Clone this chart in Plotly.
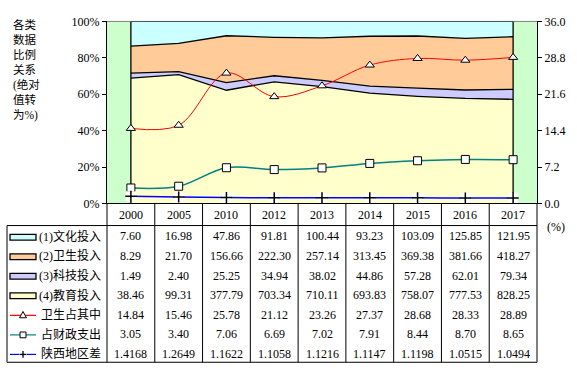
import plotly.graph_objects as go

# ---------------- data ----------------
years = ["2000", "2005", "2010", "2012", "2013", "2014", "2015", "2016", "2017"]
culture = [7.60, 16.98, 47.86, 91.81, 100.44, 93.23, 103.09, 125.85, 121.95]
health = [8.29, 21.70, 156.66, 222.30, 257.14, 313.45, 369.38, 381.66, 418.27]
tech = [1.49, 2.40, 25.25, 34.94, 38.02, 44.86, 57.28, 62.01, 79.34]
edu = [38.46, 99.31, 377.79, 703.34, 710.11, 693.83, 758.07, 777.53, 828.25]
health_share = [14.84, 15.46, 25.78, 21.12, 23.26, 27.37, 28.68, 28.33, 28.89]
fiscal_share = [3.05, 3.40, 7.06, 6.69, 7.02, 7.91, 8.44, 8.70, 8.65]
region_gap = [1.4168, 1.2649, 1.1622, 1.1058, 1.1216, 1.1147, 1.1198, 1.0515, 1.0494]

row_labels = ["(1)文化投入", "(2)卫生投入", "(3)科技投入", "(4)教育投入",
              "卫生占其中", "占财政支出", "陕西地区差"]
y_title = "各类<br>数据<br>比例<br>关系<br>(绝对<br>值转<br>为%)"
y2_ticks = [0, 7.2, 14.4, 21.6, 28.8, 36.0]

# ---------------- layout geometry (pixels) ----------------
W, H = 577, 376
PL, PR, PT, PB = 107, 537, 15, 204
TBL_LEFT, HDR_BOTTOM, TBL_BOTTOM = 7, 227, 369
FONT = "'Liberation Serif', 'Times New Roman', 'Noto Sans CJK SC', serif"

def fx(x):
    return x / W

def fy(y):
    return 1 - y / H

cw = (PR - PL) / len(years)
rh = (TBL_BOTTOM - HDR_BOTTOM) / len(row_labels)

fig = go.Figure()

# stacked 100% areas
areas = [(edu, "#FFFFCC"), (tech, "#CCCCFF"), (health, "#FFCC99"), (culture, "#CCFFFF")]
for i, (vals, col) in enumerate(areas):
    fig.add_trace(go.Scatter(
        x=years, y=vals, stackgroup="s", groupnorm="percent" if i == 0 else None,
        mode="lines", line=dict(color="black", width=1.3), fillcolor=col,
        showlegend=False, hoverinfo="skip"))

# vertical edges of the area block
for yr in (years[0], years[-1]):
    fig.add_trace(go.Scatter(x=[yr, yr], y=[0, 100], mode="lines",
                             line=dict(color="black", width=1.3),
                             showlegend=False, hoverinfo="skip"))

# lines on secondary axis
fig.add_trace(go.Scatter(
    x=years, y=health_share, yaxis="y2", mode="lines+markers",
    line=dict(color="#FF0000", width=1, shape="spline"),
    marker=dict(symbol="triangle-up", size=8, color="white", line=dict(color="black", width=1)),
    showlegend=False))
fig.add_trace(go.Scatter(
    x=years, y=fiscal_share, yaxis="y2", mode="lines+markers",
    line=dict(color="#008080", width=1.5, shape="spline"),
    marker=dict(symbol="square", size=8, color="white", line=dict(color="black", width=1)),
    showlegend=False))
fig.add_trace(go.Scatter(
    x=years, y=region_gap, yaxis="y2", mode="lines",
    line=dict(color="#0000FF", width=1.5, shape="spline"), showlegend=False))
fig.add_trace(go.Scatter(
    x=years, y=region_gap, yaxis="y2", mode="markers",
    marker=dict(symbol="square", size=10, color="white", line=dict(width=0)),
    showlegend=False, hoverinfo="skip"))
fig.add_trace(go.Scatter(
    x=years, y=region_gap, yaxis="y2", mode="markers",
    marker=dict(symbol="cross-thin", size=8, line=dict(color="black", width=1.5)),
    showlegend=False))

shapes = []
annots = []

# gray plot border top
shapes.append(dict(type="line", xref="paper", yref="paper", x0=fx(PL), x1=fx(PR),
                   y0=fy(PT), y1=fy(PT), line=dict(color="#808080", width=1), layer="below"))

# table grid
line_k = dict(color="black", width=1)
for yy in (HDR_BOTTOM, TBL_BOTTOM):
    shapes.append(dict(type="line", xref="paper", yref="paper", x0=fx(TBL_LEFT), x1=fx(PR),
                       y0=fy(yy), y1=fy(yy), line=line_k))
shapes.append(dict(type="line", xref="paper", yref="paper", x0=fx(TBL_LEFT), x1=fx(TBL_LEFT),
                   y0=fy(HDR_BOTTOM), y1=fy(TBL_BOTTOM), line=line_k))
for k in range(len(years) + 1):
    xx = PL + k * cw
    shapes.append(dict(type="line", xref="paper", yref="paper", x0=fx(xx), x1=fx(xx),
                       y0=fy(PB), y1=fy(TBL_BOTTOM), line=line_k))

# header years
for i, yr in enumerate(years):
    annots.append(dict(text=yr, xref="paper", yref="paper", x=fx(PL + (i + 0.5) * cw),
                       y=fy((PB + HDR_BOTTOM) / 2 + 0.5), showarrow=False,
                       font=dict(family=FONT, size=12, color="black"),
                       xanchor="center", yanchor="middle"))

# table values
rows = [culture, health, tech, edu, health_share, fiscal_share, region_gap]
fmts = ["{:.2f}"] * 6 + ["{:.4f}"]
for r, (vals, fmt) in enumerate(zip(rows, fmts)):
    cy = HDR_BOTTOM + (r + 0.5) * rh + 1.2
    for i, v in enumerate(vals):
        annots.append(dict(text=fmt.format(v), xref="paper", yref="paper",
                           x=fx(PL + (i + 0.5) * cw), y=fy(cy), showarrow=False,
                           font=dict(family=FONT, size=12, color="black"),
                           xanchor="center", yanchor="middle"))
    # row label
    annots.append(dict(text=row_labels[r], xref="paper", yref="paper",
                       x=fx(37 if r < 4 else 39), y=fy(cy), showarrow=False,
                       font=dict(family=FONT, size=12, color="black"),
                       xanchor="left", yanchor="middle"))

# legend keys
sw_x0, sw_x1 = 10, 36
sw_c = (sw_x0 + sw_x1) / 2
swatch_cols = ["#CCFFFF", "#FFCC99", "#CCCCFF", "#FFFFCC"]
for r, col in enumerate(swatch_cols):
    cy = HDR_BOTTOM + (r + 0.5) * rh + 2
    shapes.append(dict(type="rect", xref="paper", yref="paper", x0=fx(sw_x0), x1=fx(sw_x1),
                       y0=fy(cy - 3), y1=fy(cy + 3), fillcolor=col,
                       line=dict(color="black", width=1.3)))
line_cols = ["#FF0000", "#008080", "#0000FF"]
for j, col in enumerate(line_cols):
    r = 4 + j
    cy = HDR_BOTTOM + (r + 0.5) * rh + 2
    shapes.append(dict(type="line", xref="paper", yref="paper", x0=fx(sw_x0), x1=fx(sw_x1),
                       y0=fy(cy), y1=fy(cy), line=dict(color=col, width=1.2)))
    if j == 0:
        path = "M {},{} L {},{} L {},{} Z".format(fx(sw_c), fy(cy - 4), fx(sw_c - 3.5), fy(cy + 2.5),
                                                  fx(sw_c + 3.5), fy(cy + 2.5))
        shapes.append(dict(type="path", xref="paper", yref="paper", path=path,
                           fillcolor="white", line=dict(color="black", width=1)))
    elif j == 1:
        shapes.append(dict(type="rect", xref="paper", yref="paper", x0=fx(sw_c - 3), x1=fx(sw_c + 3),
                           y0=fy(cy - 3), y1=fy(cy + 3), fillcolor="white",
                           line=dict(color="black", width=1)))
    else:
        shapes.append(dict(type="rect", xref="paper", yref="paper", x0=fx(sw_c - 4), x1=fx(sw_c + 4),
                           y0=fy(cy - 4), y1=fy(cy + 4), fillcolor="white", line=dict(width=0)))
        shapes.append(dict(type="line", xref="paper", yref="paper", x0=fx(sw_c - 3.5), x1=fx(sw_c + 3.5),
                           y0=fy(cy), y1=fy(cy), line=dict(color="black", width=1.3)))
        shapes.append(dict(type="line", xref="paper", yref="paper", x0=fx(sw_c), x1=fx(sw_c),
                           y0=fy(cy - 3.5), y1=fy(cy + 3.5), line=dict(color="black", width=1.3)))

# left axis title
annots.append(dict(text=y_title, xref="paper", yref="paper", x=fx(11), y=fy(9),
                   showarrow=False, align="left", xanchor="left", yanchor="top",
                   font=dict(family=FONT, size=11.5, color="black")))
# (%) unit right
annots.append(dict(text="(%)", xref="paper", yref="paper", x=fx(545), y=fy(229),
                   showarrow=False, xanchor="left", yanchor="middle",
                   font=dict(family=FONT, size=12, color="black")))

fig.update_layout(
    width=W, height=H, margin=dict(l=0, r=0, t=0, b=0),
    paper_bgcolor="white", plot_bgcolor="#CCFFCC",
    font=dict(family=FONT, size=12, color="black"),
    showlegend=False, hovermode=False,
    xaxis=dict(type="category", domain=[fx(PL), fx(PR)], range=[-0.5, len(years) - 0.5],
               showticklabels=False, ticks="", showline=True, linecolor="black", linewidth=1,
               showgrid=False, zeroline=False),
    yaxis=dict(domain=[fy(PB), fy(PT)], range=[0, 100], dtick=20, ticksuffix="%",
               ticks="outside", ticklen=4, tickcolor="black", showline=True,
               linecolor="black", linewidth=1, showgrid=False, zeroline=False,
               tickfont=dict(family=FONT, size=12, color="black")),
    yaxis2=dict(overlaying="y", side="right", anchor="x", range=[0, 36],
                tickvals=y2_ticks, ticktext=["{:.1f}".format(v) for v in y2_ticks],
                ticks="outside", ticklen=4, tickcolor="black", showline=True,
                linecolor="black", linewidth=1, showgrid=False, zeroline=False,
                tickfont=dict(family=FONT, size=12, color="black")),
    shapes=shapes, annotations=annots,
)

fig.write_html("out.html", config={"displayModeBar": False, "staticPlot": True},
               post_script="document.body.style.margin='0';document.body.style.overflow='hidden';")
